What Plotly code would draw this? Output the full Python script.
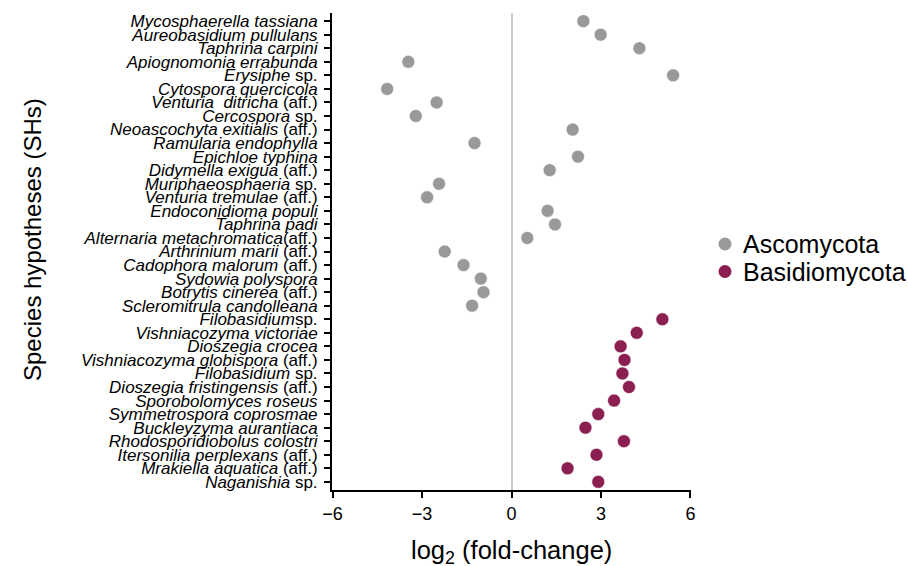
import plotly.graph_objects as go

species = [
    "<i>Mycosphaerella tassiana</i>",
    "<i>Aureobasidium pullulans</i>",
    "<i>Taphrina carpini</i>",
    "<i>Apiognomonia errabunda</i>",
    "<i>Erysiphe</i> sp.",
    "<i>Cytospora quercicola</i>",
    "<i>Venturia&nbsp; ditricha</i> (aff.)",
    "<i>Cercospora</i> sp.",
    "<i>Neoascochyta exitialis</i> (aff.)",
    "<i>Ramularia endophylla</i>",
    "<i>Epichloe typhina</i>",
    "<i>Didymella exigua</i> (aff.)",
    "<i>Muriphaeosphaeria</i> sp.",
    "<i>Venturia tremulae</i> (aff.)",
    "<i>Endoconidioma populi</i>",
    "<i>Taphrina padi</i>",
    "<i>Alternaria metachromatica</i>(aff.)",
    "<i>Arthrinium marii</i> (aff.)",
    "<i>Cadophora malorum</i> (aff.)",
    "<i>Sydowia polyspora</i>",
    "<i>Botrytis cinerea</i> (aff.)",
    "<i>Scleromitrula candolleana</i>",
    "<i>Filobasidium</i>sp.",
    "<i>Vishniacozyma victoriae</i>",
    "<i>Dioszegia crocea</i>",
    "<i>Vishniacozyma globispora</i> (aff.)",
    "<i>Filobasidium</i> sp.",
    "<i>Dioszegia fristingensis</i> (aff.)",
    "<i>Sporobolomyces roseus</i>",
    "<i>Symmetrospora coprosmae</i>",
    "<i>Buckleyzyma aurantiaca</i>",
    "<i>Rhodosporidiobolus colostri</i>",
    "<i>Itersonilia perplexans</i> (aff.)",
    "<i>Mrakiella aquatica</i> (aff.)",
    "<i>Naganishia</i> sp.",
]

log2fc = [
    2.41, 2.99, 4.29, -3.46, 5.42, -4.17, -2.51, -3.21, 2.05, -1.24,
    2.23, 1.28, -2.43, -2.83, 1.21, 1.46, 0.53, -2.24, -1.61, -1.03,
    -0.94, -1.32,
    5.06, 4.20, 3.66, 3.79, 3.72, 3.94, 3.44, 2.91, 2.48, 3.77,
    2.85, 1.88, 2.91,
]

phylum = ["Ascomycota"] * 22 + ["Basidiomycota"] * 13

phyla = ["Ascomycota", "Basidiomycota"]
colors = {"Ascomycota": "#999999", "Basidiomycota": "#8B1F52"}

x_ticks = [-6, -3, 0, 3, 6]

FONT = "Liberation Sans, Arial, sans-serif"

W, H = 908, 566
ML, MR, MT, MB = 332, 217, 13, 76
PW, PH = W - ML - MR, H - MT - MB


def px_x(x):
    return (x - ML) / PW


def px_y(y):
    return (H - MB - y) / PH


fig = go.Figure()
positions = list(range(len(species)))
for ph in phyla:
    idx = [i for i, p in enumerate(phylum) if p == ph]
    fig.add_trace(go.Scatter(
        x=[log2fc[i] for i in idx],
        y=[positions[i] for i in idx],
        mode="markers",
        name=ph,
        marker=dict(size=13, color=colors[ph], line=dict(width=0.6, color="white")),
        cliponaxis=False,
        showlegend=False,
    ))

annotations = [
    dict(text="Species hypotheses (SHs)", x=px_x(33), y=px_y(240), xref="paper", yref="paper",
         showarrow=False, textangle=-90, font=dict(size=24, family=FONT, color="black"),
         xanchor="center", yanchor="middle"),
    dict(text="log<sub>2</sub> (fold-change)", x=0.5, y=px_y(552), xref="paper", yref="paper",
         showarrow=False, font=dict(size=25.5, family=FONT, color="black"),
         xanchor="center", yanchor="middle"),
]
shapes = []
legend_y = [244, 271.5]
for ph, ly in zip(phyla, legend_y):
    shapes.append(dict(
        type="circle", xref="paper", yref="paper",
        xsizemode="pixel", ysizemode="pixel",
        xanchor=px_x(725), yanchor=px_y(ly),
        x0=-6.5, x1=6.5, y0=-6.5, y1=6.5,
        fillcolor=colors[ph], line=dict(width=0),
    ))
    annotations.append(dict(
        text=ph, x=px_x(741), y=px_y(ly), xref="paper", yref="paper",
        showarrow=False, xanchor="left", yanchor="middle",
        font=dict(size=25, family=FONT, color="black"),
    ))

fig.update_layout(
    width=W, height=H,
    margin=dict(l=ML, r=MR, t=MT, b=MB, autoexpand=False),
    paper_bgcolor="white", plot_bgcolor="white",
    font=dict(family=FONT, color="black"),
    showlegend=False,
    annotations=annotations,
    shapes=shapes,
)

fig.update_xaxes(
    range=[-6.02, 6.02], tickvals=x_ticks,
    ticktext=[("\u2212" + str(-v)) if v < 0 else str(v) for v in x_ticks],
    showgrid=False, zeroline=True, zerolinecolor="#cccccc", zerolinewidth=1.5,
    showline=True, linecolor="black", linewidth=2,
    ticks="outside", ticklen=6, tickwidth=1.5, tickcolor="black",
    tickfont=dict(size=18, family=FONT, color="black"),
)
fig.update_yaxes(
    range=[34.6, -0.6], tickvals=positions, ticktext=species,
    showgrid=False, zeroline=False,
    showline=True, linecolor="black", linewidth=2,
    ticks="outside", ticklen=6, tickwidth=1.5, tickcolor="black",
    tickfont=dict(size=17, family=FONT, color="black"),
    ticklabelstandoff=3,
)

fig.write_html("out.html")
